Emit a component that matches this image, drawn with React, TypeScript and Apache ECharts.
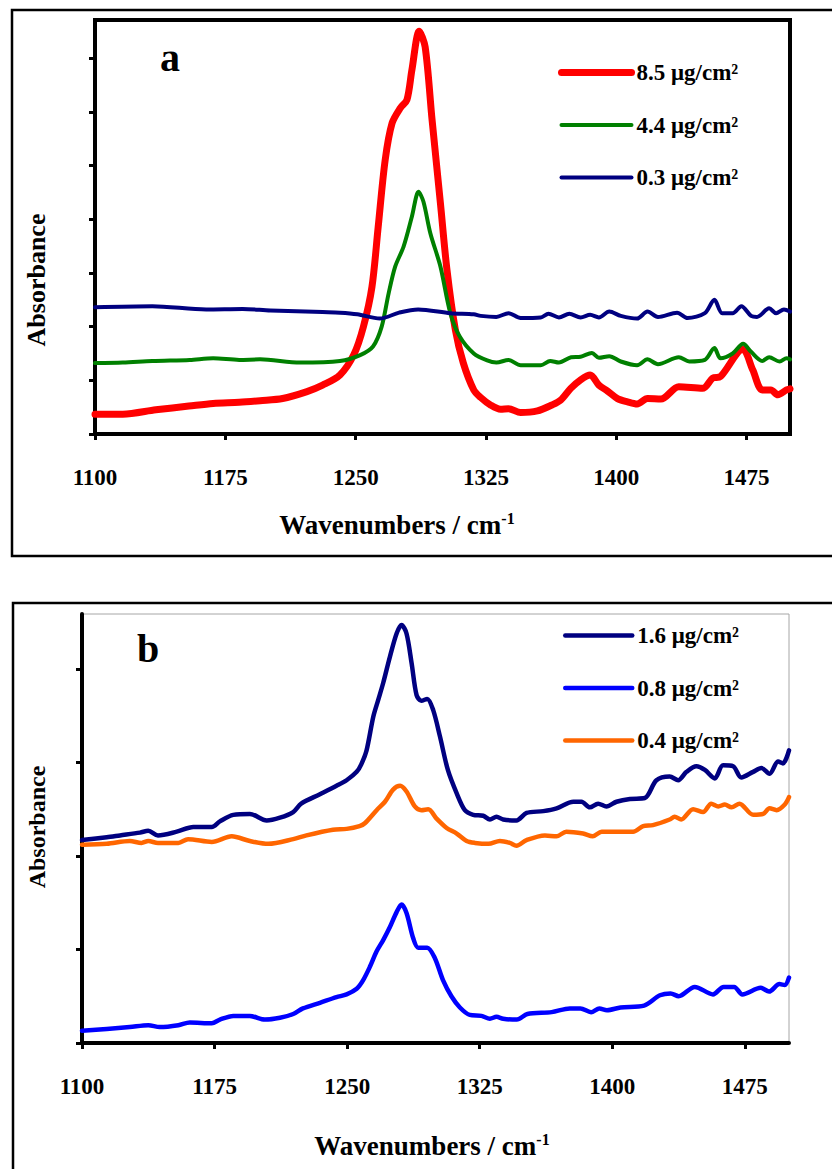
import React, { useEffect, useRef } from 'react';
import * as echarts from 'echarts';

const FONT = '"Liberation Serif", "Times New Roman", serif';

// ---- axis ticks ----
const xTickValues = [1100, 1175, 1250, 1325, 1400, 1475];
const yTicksA = [0, 0.1, 0.2, 0.3, 0.4, 0.5, 0.6, 0.7];
const yTicksB = [0, 0.1, 0.2, 0.3, 0.4];

// ---- legend names ----
const namesA = ['8.5 μg/cm²', '4.4 μg/cm²', '0.3 μg/cm²'];
const namesB = ['1.6 μg/cm²', '0.8 μg/cm²', '0.4 μg/cm²'];

// ---- panel a: 8.5 µg/cm² (red) ----
const wnA85 = [1100, 1116, 1135, 1154, 1168, 1183, 1195, 1208, 1222, 1231, 1241, 1249, 1254.5, 1259.4, 1263, 1267, 1271, 1275.7, 1279.5, 1282.4, 1286.6, 1290, 1294, 1298.8, 1302.6, 1307.4, 1312, 1318, 1322, 1327.6, 1333.4, 1338, 1345, 1354.6, 1363, 1368, 1373.8, 1379.5, 1385, 1390, 1395, 1400.7, 1406.5, 1412, 1418, 1425.7, 1436, 1449.7, 1455.5, 1460, 1472.8, 1478.6, 1484, 1489, 1493, 1498, 1500];
const absA85 = [0.037, 0.037, 0.045, 0.052, 0.057, 0.059, 0.062, 0.066, 0.079, 0.091, 0.110, 0.148, 0.200, 0.274, 0.386, 0.510, 0.579, 0.607, 0.622, 0.678, 0.750, 0.721, 0.585, 0.430, 0.305, 0.194, 0.132, 0.082, 0.068, 0.054, 0.046, 0.047, 0.040, 0.043, 0.054, 0.063, 0.085, 0.101, 0.110, 0.091, 0.080, 0.066, 0.060, 0.056, 0.066, 0.065, 0.088, 0.085, 0.104, 0.107, 0.158, 0.119, 0.082, 0.082, 0.073, 0.082, 0.084];

// ---- panel a: 4.4 µg/cm² (green) ----
const wnA44 = [1100, 1116, 1133, 1154.5, 1168, 1183, 1195, 1218, 1241, 1252.6, 1260, 1265, 1269, 1272.8, 1277.6, 1282.4, 1286.2, 1289, 1293, 1298.8, 1304.5, 1310, 1318, 1325.7, 1331, 1338, 1345, 1356.5, 1362, 1367, 1374, 1379.5, 1386, 1390, 1396, 1402.6, 1412, 1418, 1424, 1436, 1442, 1451, 1456.5, 1460, 1467, 1473, 1477.6, 1484, 1488, 1494, 1498, 1500];
const absA44 = [0.132, 0.133, 0.136, 0.138, 0.141, 0.138, 0.139, 0.133, 0.136, 0.147, 0.163, 0.200, 0.262, 0.312, 0.349, 0.405, 0.451, 0.433, 0.374, 0.312, 0.225, 0.181, 0.150, 0.137, 0.133, 0.138, 0.128, 0.128, 0.136, 0.133, 0.143, 0.144, 0.151, 0.142, 0.145, 0.135, 0.128, 0.139, 0.130, 0.143, 0.135, 0.138, 0.160, 0.141, 0.150, 0.168, 0.153, 0.136, 0.143, 0.135, 0.141, 0.139];

// ---- panel a: 0.3 µg/cm² (navy) ----
const wnA03 = [1100, 1133, 1164, 1185, 1201, 1231, 1241, 1251, 1264, 1275, 1286, 1304.5, 1318, 1322, 1331, 1338, 1345, 1356.5, 1361, 1367, 1373, 1379.5, 1385, 1390, 1396, 1402.6, 1412, 1418, 1424, 1435, 1441, 1451, 1456.5, 1461, 1467, 1472, 1477.6, 1481, 1488, 1492, 1496.5, 1500];
const absA03 = [0.236, 0.238, 0.232, 0.233, 0.230, 0.227, 0.226, 0.223, 0.215, 0.226, 0.232, 0.225, 0.223, 0.220, 0.218, 0.225, 0.216, 0.217, 0.224, 0.217, 0.224, 0.217, 0.222, 0.217, 0.228, 0.220, 0.215, 0.228, 0.218, 0.226, 0.216, 0.225, 0.250, 0.225, 0.225, 0.238, 0.220, 0.218, 0.234, 0.225, 0.232, 0.228];

// ---- panel b: 1.6 µg/cm² (navy) ----
const wnB16 = [1100, 1114, 1121.5, 1132.8, 1137.5, 1143, 1153.6, 1163, 1173.4, 1178, 1185.6, 1195, 1204.5, 1212, 1219.5, 1224, 1234.6, 1244, 1249.7, 1255.4, 1258, 1261, 1264.8, 1267.6, 1270.4, 1274.2, 1278, 1280.8, 1283.6, 1286.5, 1289.3, 1292, 1295.3, 1298.7, 1302.5, 1307, 1312, 1316.6, 1321.3, 1327, 1330.8, 1334.5, 1338.3, 1345.8, 1351.5, 1361, 1368.5, 1378, 1382.6, 1387.3, 1392, 1396.7, 1402.4, 1410, 1418.4, 1425, 1432.5, 1437.3, 1442, 1447.6, 1452.4, 1458, 1462.7, 1468.4, 1473, 1479.7, 1484.4, 1489, 1493.8, 1496.6, 1500];
const absB16 = [0.217, 0.220, 0.222, 0.225, 0.227, 0.222, 0.226, 0.231, 0.231, 0.237, 0.244, 0.245, 0.238, 0.241, 0.247, 0.256, 0.266, 0.275, 0.281, 0.290, 0.298, 0.313, 0.349, 0.367, 0.385, 0.413, 0.438, 0.447, 0.438, 0.406, 0.372, 0.366, 0.368, 0.356, 0.328, 0.292, 0.267, 0.249, 0.244, 0.243, 0.239, 0.242, 0.239, 0.238, 0.246, 0.248, 0.251, 0.258, 0.258, 0.252, 0.256, 0.253, 0.258, 0.261, 0.262, 0.281, 0.285, 0.281, 0.290, 0.296, 0.292, 0.283, 0.297, 0.296, 0.284, 0.290, 0.294, 0.288, 0.301, 0.299, 0.313];

// ---- panel b: 0.8 µg/cm² (blue) ----
const wnB08 = [1100, 1114, 1127, 1137.5, 1144, 1154.5, 1161, 1173.4, 1178, 1185.6, 1195, 1203.5, 1212, 1219.5, 1225, 1234.6, 1244, 1249.7, 1255.4, 1259, 1263, 1266.7, 1270.4, 1274.2, 1278, 1280.8, 1283.6, 1287.4, 1290.2, 1295.3, 1299.6, 1304.3, 1309, 1313.8, 1319.4, 1326, 1330.8, 1334.5, 1338.3, 1346, 1352, 1365.7, 1376, 1382, 1388, 1392.7, 1397, 1404.7, 1418, 1427, 1433, 1437.6, 1446.7, 1457, 1463, 1469, 1473.6, 1484, 1488.7, 1494.6, 1497.6, 1500];
const absB08 = [0.013, 0.015, 0.017, 0.019, 0.017, 0.019, 0.022, 0.021, 0.025, 0.029, 0.029, 0.025, 0.027, 0.031, 0.037, 0.043, 0.049, 0.052, 0.058, 0.067, 0.082, 0.098, 0.110, 0.124, 0.140, 0.148, 0.139, 0.112, 0.102, 0.102, 0.091, 0.067, 0.050, 0.038, 0.030, 0.029, 0.026, 0.028, 0.026, 0.025, 0.031, 0.033, 0.037, 0.037, 0.033, 0.037, 0.035, 0.038, 0.040, 0.051, 0.053, 0.050, 0.060, 0.052, 0.060, 0.060, 0.052, 0.059, 0.055, 0.063, 0.062, 0.070];

// ---- panel b: 0.4 µg/cm² (orange) ----
const wnB04 = [1100, 1114, 1127, 1133.7, 1137.5, 1143, 1154.5, 1160, 1173.4, 1184.7, 1195, 1205.4, 1219.5, 1227, 1242, 1249.7, 1257, 1260, 1266.7, 1271.4, 1276, 1280, 1283.6, 1288.3, 1292, 1295.9, 1300.6, 1306.3, 1312, 1317.6, 1322.3, 1330, 1336.4, 1342, 1345.8, 1351.5, 1361.9, 1368.5, 1374, 1383.5, 1389, 1394, 1404.3, 1411.8, 1417.5, 1423, 1432.5, 1435.3, 1439, 1445.7, 1451.4, 1456, 1460, 1463.7, 1467.5, 1472, 1479.7, 1485.4, 1489, 1493, 1497.6, 1500];
const absB04 = [0.212, 0.213, 0.216, 0.214, 0.216, 0.214, 0.214, 0.218, 0.215, 0.221, 0.216, 0.213, 0.218, 0.222, 0.228, 0.229, 0.232, 0.235, 0.249, 0.258, 0.271, 0.275, 0.269, 0.253, 0.249, 0.250, 0.240, 0.230, 0.224, 0.216, 0.214, 0.213, 0.216, 0.214, 0.211, 0.217, 0.222, 0.221, 0.226, 0.224, 0.221, 0.226, 0.226, 0.226, 0.232, 0.233, 0.239, 0.242, 0.239, 0.250, 0.247, 0.256, 0.253, 0.255, 0.252, 0.256, 0.244, 0.245, 0.251, 0.249, 0.255, 0.263];

const colorsA = ['#ff0000', '#008000', '#000080'];
const widthsA = [7, 4, 4];
const colorsB = ['#000080', '#0000ff', '#ff6600'];
const widthsB = [4.5, 4.5, 4.5];

const pairs = (xs: number[], ys: number[]) => xs.map((x, i) => [x, ys[i]]);

const boldText = (size: number) => ({
  fontFamily: FONT,
  fontWeight: 'bold' as const,
  fontSize: size,
  color: '#000',
});

function makeXAxis(gridIndex: number, nameGap: number, padRight: number) {
  return {
    type: 'value',
    gridIndex,
    min: 1100,
    max: 1500,
    axisLine: { show: true, onZero: false, lineStyle: { color: '#000', width: 4 } },
    axisTick: {
      show: true,
      inside: false,
      length: 6,
      lineStyle: { color: '#000', width: 3 },
      customValues: xTickValues,
    },
    axisLabel: {
      ...boldText(23),
      margin: 32,
      customValues: xTickValues,
      formatter: (v: number) => String(v),
    },
    splitLine: { show: false },
    name: '{m|Wavenumbers / cm}{s|-1}',
    nameLocation: 'middle',
    nameGap,
    nameTextStyle: {
      ...boldText(27),
      padding: [0, padRight, 0, 0],
      rich: {
        m: { ...boldText(27), lineHeight: 30 },
        s: { ...boldText(16), lineHeight: 16, verticalAlign: 'top' },
      },
    },
  };
}

function makeYAxis(gridIndex: number, max: number, ticks: number[]) {
  return {
    type: 'value',
    gridIndex,
    min: 0,
    max,
    axisLine: { show: true, onZero: false, lineStyle: { color: '#000', width: 4 } },
    axisTick: {
      show: true,
      inside: false,
      length: 6,
      lineStyle: { color: '#000', width: 3 },
      customValues: ticks,
    },
    axisLabel: { show: false, customValues: ticks },
    splitLine: { show: false },
  };
}

function lineSeries(name: string, xi: number, data: number[][], color: string, width: number) {
  return {
    type: 'line',
    name,
    xAxisIndex: xi,
    yAxisIndex: xi,
    data,
    showSymbol: false,
    symbol: 'none',
    smooth: 0.3,
    lineStyle: { color, width, cap: 'round', join: 'round' },
    itemStyle: { color },
    emphasis: { disabled: true },
  };
}

function legendAt(names: string[], colors: string[], widths: number[], left: number, top: number, itemWidth: number) {
  return {
    data: names.map((name, i) => ({
      name,
      itemStyle: { opacity: 0 },
      lineStyle: { color: colors[i], width: widths[i], cap: 'round' },
    })),
    orient: 'vertical',
    left,
    top,
    padding: 0,
    itemWidth,
    itemHeight: 22,
    itemGap: 29.5,
    selectedMode: false,
    itemStyle: { opacity: 0 },
    textStyle: { ...boldText(23), lineHeight: 22 },
  };
}

export default function App() {
  const ref = useRef<HTMLDivElement>(null);

  useEffect(() => {
    if (!ref.current) return;
    const chart = echarts.init(ref.current, undefined, { renderer: 'svg' });
    chart.setOption({
      animation: false,
      backgroundColor: '#fff',
      grid: [
        { left: 95, top: 20, width: 695, height: 414, show: true, borderColor: '#000', borderWidth: 4, backgroundColor: 'transparent' },
        { left: 82, top: 614, width: 707, height: 429, show: true, borderColor: '#a6a6a6', borderWidth: 1, backgroundColor: 'transparent' },
      ],
      xAxis: [makeXAxis(0, 76, 91), makeXAxis(1, 88, 7)],
      yAxis: [makeYAxis(0, 0.771, yTicksA), makeYAxis(1, 0.4588, yTicksB)],
      legend: [
        legendAt(namesA, colorsA, widthsA, 558, 61, 70),
        legendAt(namesB, colorsB, widthsB, 563, 624, 67),
      ],
      series: [
        lineSeries(namesA[0], 0, pairs(wnA85, absA85), colorsA[0], widthsA[0]),
        lineSeries(namesA[1], 0, pairs(wnA44, absA44), colorsA[1], widthsA[1]),
        lineSeries(namesA[2], 0, pairs(wnA03, absA03), colorsA[2], widthsA[2]),
        lineSeries(namesB[0], 1, pairs(wnB16, absB16), colorsB[0], widthsB[0]),
        lineSeries(namesB[1], 1, pairs(wnB08, absB08), colorsB[1], widthsB[1]),
        lineSeries(namesB[2], 1, pairs(wnB04, absB04), colorsB[2], widthsB[2]),
      ],
      graphic: [
        { type: 'rect', shape: { x: 12, y: 10, width: 840, height: 546 }, style: { fill: 'none', stroke: '#000', lineWidth: 2.5 }, silent: true },
        { type: 'rect', shape: { x: 13, y: 603, width: 840, height: 620 }, style: { fill: 'none', stroke: '#000', lineWidth: 2.5 }, silent: true },
        { type: 'text', x: 160, y: 57.5, style: { text: 'a', font: `bold 40px ${FONT}`, fill: '#000', verticalAlign: 'middle' } },
        { type: 'text', x: 137, y: 648.5, style: { text: 'b', font: `bold 40px ${FONT}`, fill: '#000', verticalAlign: 'middle' } },
        { type: 'text', x: 36, y: 280, rotation: Math.PI / 2, style: { text: 'Absorbance', font: `bold 26px ${FONT}`, fill: '#000', align: 'center', verticalAlign: 'middle' } },
        { type: 'text', x: 37, y: 827, rotation: Math.PI / 2, style: { text: 'Absorbance', font: `bold 24px ${FONT}`, fill: '#000', align: 'center', verticalAlign: 'middle' } },
      ],
    });
    return () => chart.dispose();
  }, []);

  return (
    <div
      ref={ref}
      style={{ position: 'absolute', left: 0, top: 0, width: 832, height: 1169 }}
    />
  );
}
